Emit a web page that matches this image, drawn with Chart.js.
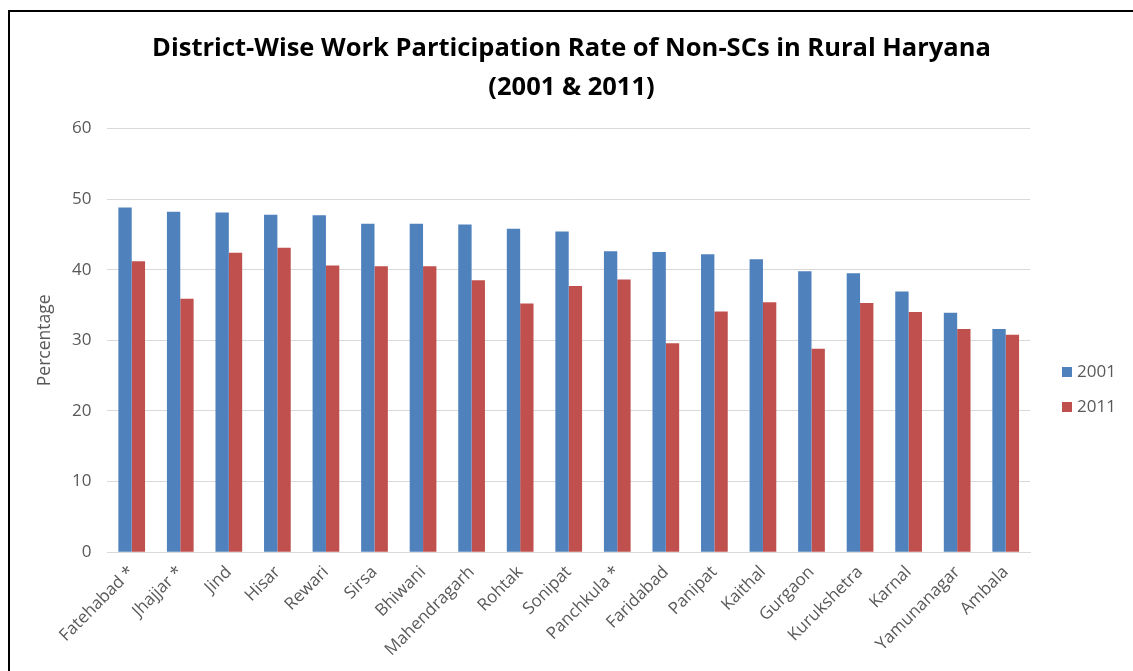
<!DOCTYPE html>
<html>
<head>
<meta charset="utf-8">
<script src="https://cdn.jsdelivr.net/npm/chart.js@4.4.1/dist/chart.umd.min.js"></script>
<style>
  body { margin: 0; background: #fff; }
  #frame { position: absolute; left: 8px; top: 10px; width: 1200px; height: 700px; border-left: 2px solid #000; border-top: 2px solid #000; }
  #wrap { position: absolute; left: 0; top: 0; width: 1133px; height: 671px; }
</style>
</head>
<body>
<div id="frame"></div>
<div id="wrap"><canvas id="wprChart"></canvas></div>
<script>
const districts = ["Fatehabad *", "Jhajjar *", "Jind", "Hisar", "Rewari", "Sirsa", "Bhiwani", "Mahendragarh", "Rohtak", "Sonipat",
  "Panchkula *", "Faridabad", "Panipat", "Kaithal", "Gurgaon", "Kurukshetra", "Karnal", "Yamunanagar", "Ambala"];
const wpr2001 = [48.8, 48.2, 48.1, 47.8, 47.7, 46.5, 46.5, 46.4, 45.8, 45.4, 42.6, 42.5, 42.2, 41.5, 39.8, 39.5, 36.9, 33.9, 31.6];
const wpr2011 = [41.2, 35.9, 42.4, 43.1, 40.6, 40.5, 40.5, 38.5, 35.2, 37.7, 38.6, 29.6, 34.1, 35.4, 28.8, 35.3, 34.0, 31.6, 30.8];
const yTicks = [0, 10, 20, 30, 40, 50, 60];

const grey = "#595959";

// legend drawn by hand on the right so it sits like the excel one
const sideLegend = {
  id: "sideLegend",
  afterDraw(chart) {
    const c = chart.ctx;
    const x = chart.chartArea.right + 32;
    let y = 372;
    c.save();
    c.font = "17px 'Open Sans'";
    c.textBaseline = "middle";
    chart.data.datasets.forEach((ds) => {
      c.fillStyle = ds.backgroundColor;
      c.fillRect(x, y - 5, 10, 10);
      c.fillStyle = grey;
      c.fillText(ds.label, x + 15, y);
      y += 35;
    });
    c.restore();
  },
};

const ctx = document.getElementById("wprChart").getContext("2d");
const wprChart = new Chart(ctx, {
  type: "bar",
  data: {
    labels: districts,
    datasets: [
      { label: "2001", data: wpr2001, backgroundColor: "#4f81bd", borderWidth: 0 },
      { label: "2011", data: wpr2011, backgroundColor: "#c0504d", borderWidth: 0 },
    ],
  },
  options: {
    responsive: true,
    maintainAspectRatio: false,
    animation: false,
    layout: { padding: { left: 30, right: 20, top: 0, bottom: 9 } },
    datasets: { bar: { categoryPercentage: 0.55, barPercentage: 1.0 } },
    scales: {
      y: {
        min: 0,
        max: 60,
        afterBuildTicks: (axis) => { axis.ticks = yTicks.map((v) => ({ value: v })); },
        border: { display: false },
        grid: { color: "#d9d9d9", lineWidth: 1, drawTicks: false },
        ticks: { color: grey, font: { family: "Open Sans", size: 17 }, padding: 16 },
        title: { display: true, text: "Percentage", color: grey, font: { family: "Open Sans", size: 17.5 }, padding: { top: 5, bottom: 0 } },
      },
      // empty axis on the right, only keeps room for the legend
      side: {
        position: "right",
        display: true,
        border: { display: false },
        grid: { display: false, drawOnChartArea: false },
        ticks: { display: false },
        afterFit: (axis) => { axis.width = 83; },
      },
      x: {
        border: { display: true, color: "#d9d9d9" },
        grid: { display: false },
        ticks: { color: grey, font: { family: "Open Sans", size: 17 }, maxRotation: 45, minRotation: 45, padding: 2, autoSkip: false },
      },
    },
    plugins: {
      title: {
        display: true,
        text: ["District-Wise Work Participation Rate of Non-SCs in Rural Haryana", "(2001 & 2011)"],
        color: "#000",
        font: { family: "Open Sans", size: 25.5, weight: "bold", lineHeight: 1.5 },
        padding: { top: 30, bottom: 22 },
      },
      legend: { display: false },
      tooltip: { enabled: false },
    },
  },
  plugins: [sideLegend],
});
</script>
</body>
</html>
